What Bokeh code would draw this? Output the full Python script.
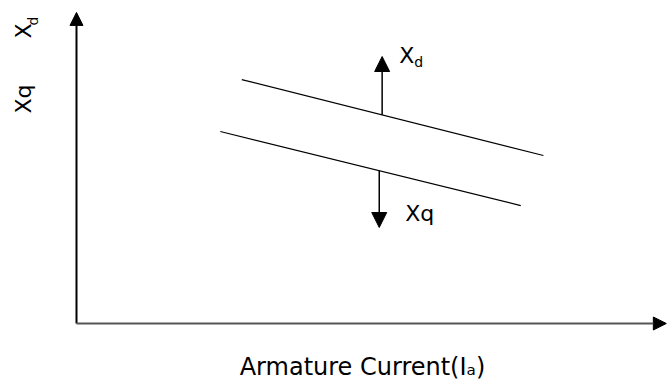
import math
from bokeh.plotting import figure
from bokeh.models import Range1d, Arrow, NormalHead, Label, ColumnDataSource
from bokeh.embed import file_html
from bokeh.resources import INLINE

# ---- data (arbitrary units) ----
# Xd characteristic vs armature current
ia_d = [2.85, 8.05]
xd_vals = [8.13, 5.60]
# Xq characteristic vs armature current
ia_q = [2.48, 7.66]
xq_vals = [6.40, 3.93]

# direction arrows: Xd increases (up), Xq decreases (down)
arrow_ia = [5.27, 5.22]
arrow_from = [6.95, 5.10]
arrow_to = [8.90, 3.20]

# axes extents
x_axis_end = 10.17
y_axis_end = 10.37

x_title = "Armature Current(I\u2090)"
FONT = "DejaVu Sans"

W, H = 667, 379
p = figure(width=W, height=H, output_backend="svg", toolbar_location=None,
           x_range=Range1d(-1.3103, 10.19), y_range=Range1d(-1.867, 10.767),
           x_axis_type=None, y_axis_type=None, min_border=0,
           background_fill_color="white", border_fill_color="white")
p.outline_line_color = None
p.grid.visible = False

# characteristic lines
p.line(ia_d, xd_vals, line_color="black", line_width=1.2)
p.line(ia_q, xq_vals, line_color="black", line_width=1.2)

# axes with arrow heads
p.add_layout(Arrow(end=NormalHead(size=13, fill_color="black", line_color="black"),
                   x_start=0, y_start=0, x_end=0, y_end=y_axis_end,
                   line_color="black", line_width=2))
p.add_layout(Arrow(end=NormalHead(size=13, fill_color="black", line_color="black"),
                   x_start=0, y_start=0, x_end=x_axis_end, y_end=0,
                   line_color="#555555", line_width=2))

# direction arrows
src = ColumnDataSource(dict(x0=arrow_ia, y0=arrow_from, x1=arrow_ia, y1=arrow_to))
p.add_layout(Arrow(end=NormalHead(size=15, fill_color="black", line_color="black"),
                   x_start="x0", y_start="y0", x_end="x1", y_end="y1",
                   source=src, line_color="black", line_width=1.5))

def lab(text, x, y, size, units="data", **kw):
    p.add_layout(Label(text=text, x=x, y=y, x_units=units, y_units=units,
                       text_font=FONT, text_font_size=f"{size}px",
                       text_color="black", **kw))

# label next to the Xd arrow
lab("X", arrow_ia[0], arrow_to[0], 22, x_offset=17, y_offset=1,
    text_align="left", text_baseline="middle")
lab("d", arrow_ia[0], arrow_to[0], 14, x_offset=32, y_offset=-5,
    text_align="left", text_baseline="middle")
# label next to the Xq arrow
lab("Xq", arrow_ia[1], arrow_to[1], 22, x_offset=26, y_offset=14,
    text_align="left", text_baseline="middle")

# rotated y labels (screen units, frame == canvas)
lab("X", 23, H - 38, 22, units="screen", angle=math.pi / 2,
    text_align="left", text_baseline="middle")
lab("d", 32, H - 25, 14, units="screen", angle=math.pi / 2,
    text_align="left", text_baseline="middle")
lab("Xq", 23, H - 113, 22, units="screen", angle=math.pi / 2,
    text_align="left", text_baseline="middle")

# x title
lab(x_title, 362, 13, 24, units="screen", text_align="center",
    text_baseline="alphabetic")

open("out.html", "w").write(file_html(p, INLINE))
